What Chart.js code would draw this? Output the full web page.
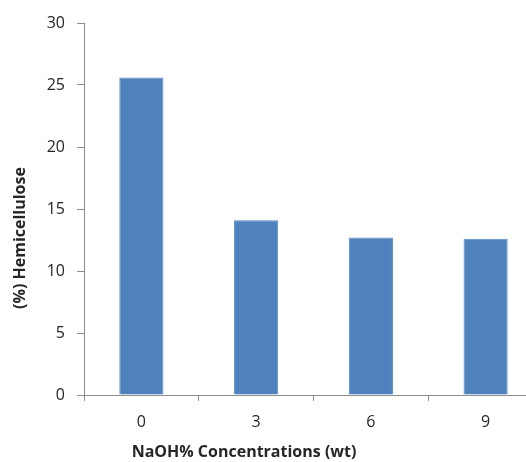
<!DOCTYPE html>
<html>
<head>
<meta charset="utf-8">
<script src="https://cdn.jsdelivr.net/npm/chart.js@4"></script>
<style>
  html, body { margin: 0; padding: 0; overflow: hidden; background: #fff; }
  #wrap { width: 550px; height: 462px; }
</style>
</head>
<body>
<div id="wrap"><canvas id="grafico"></canvas></div>
<script>
const concentraciones = ['0', '3', '6', '9'];
const hemicelulosa = [25.6, 14.1, 12.7, 12.6];
const yMin = 0;
const yMax = 30;
const yStep = 5;
const tituloX = 'NaOH% Concentrations (wt)';
const tituloY = '(%) Hemicellulose';

const gris = '#8c8c8c';
const texto = '#262626';
const fuenteTitulo = 'bold 16px "Open Sans"';

// los titulos de los ejes van centrados en la imagen visible, no en el area del grafico
const titulosEjes = {
  id: 'titulosEjes',
  afterDraw(chart) {
    const c = chart.ctx;
    c.save();
    c.fillStyle = texto;
    c.font = fuenteTitulo;
    c.textAlign = 'center';
    c.textBaseline = 'middle';
    c.fillText(tituloX, 244, 452);
    c.translate(20, 238);
    c.rotate(-Math.PI / 2);
    c.fillText(tituloY, 0, 0);
    c.restore();
  },
};

const ctx = document.getElementById('grafico').getContext('2d');
const myChart = new Chart(ctx, {
  type: 'bar',
  data: {
    labels: concentraciones,
    datasets: [
      {
        label: tituloY,
        data: hemicelulosa,
        backgroundColor: '#4f81bd',
        borderColor: '#5b8bc4',
        borderWidth: 1,
        categoryPercentage: 1,
        barPercentage: 0.385,
      },
    ],
  },
  options: {
    responsive: true,
    maintainAspectRatio: false,
    animation: false,
    layout: { padding: { top: 23, right: 7, left: 0, bottom: 0 } },
    plugins: {
      legend: { display: false },
      tooltip: { enabled: false },
    },
    scales: {
      x: {
        afterFit: (scale) => { scale.height = 67; },
        grid: {
          offset: true,
          drawOnChartArea: false,
          drawTicks: true,
          tickLength: 6,
          color: gris,
        },
        border: { display: true, color: gris, width: 1 },
        ticks: {
          color: texto,
          padding: 12,
          font: { family: 'Open Sans', size: 16 },
        },
      },
      y: {
        min: yMin,
        max: yMax,
        afterFit: (scale) => { scale.width = 84; },
        grid: {
          drawOnChartArea: false,
          drawTicks: true,
          tickLength: 7,
          color: gris,
        },
        border: { display: true, color: gris, width: 1 },
        ticks: {
          stepSize: yStep,
          color: texto,
          padding: 12,
          font: { family: 'Open Sans', size: 16 },
        },
      },
    },
  },
  plugins: [titulosEjes],
});
</script>
</body>
</html>
